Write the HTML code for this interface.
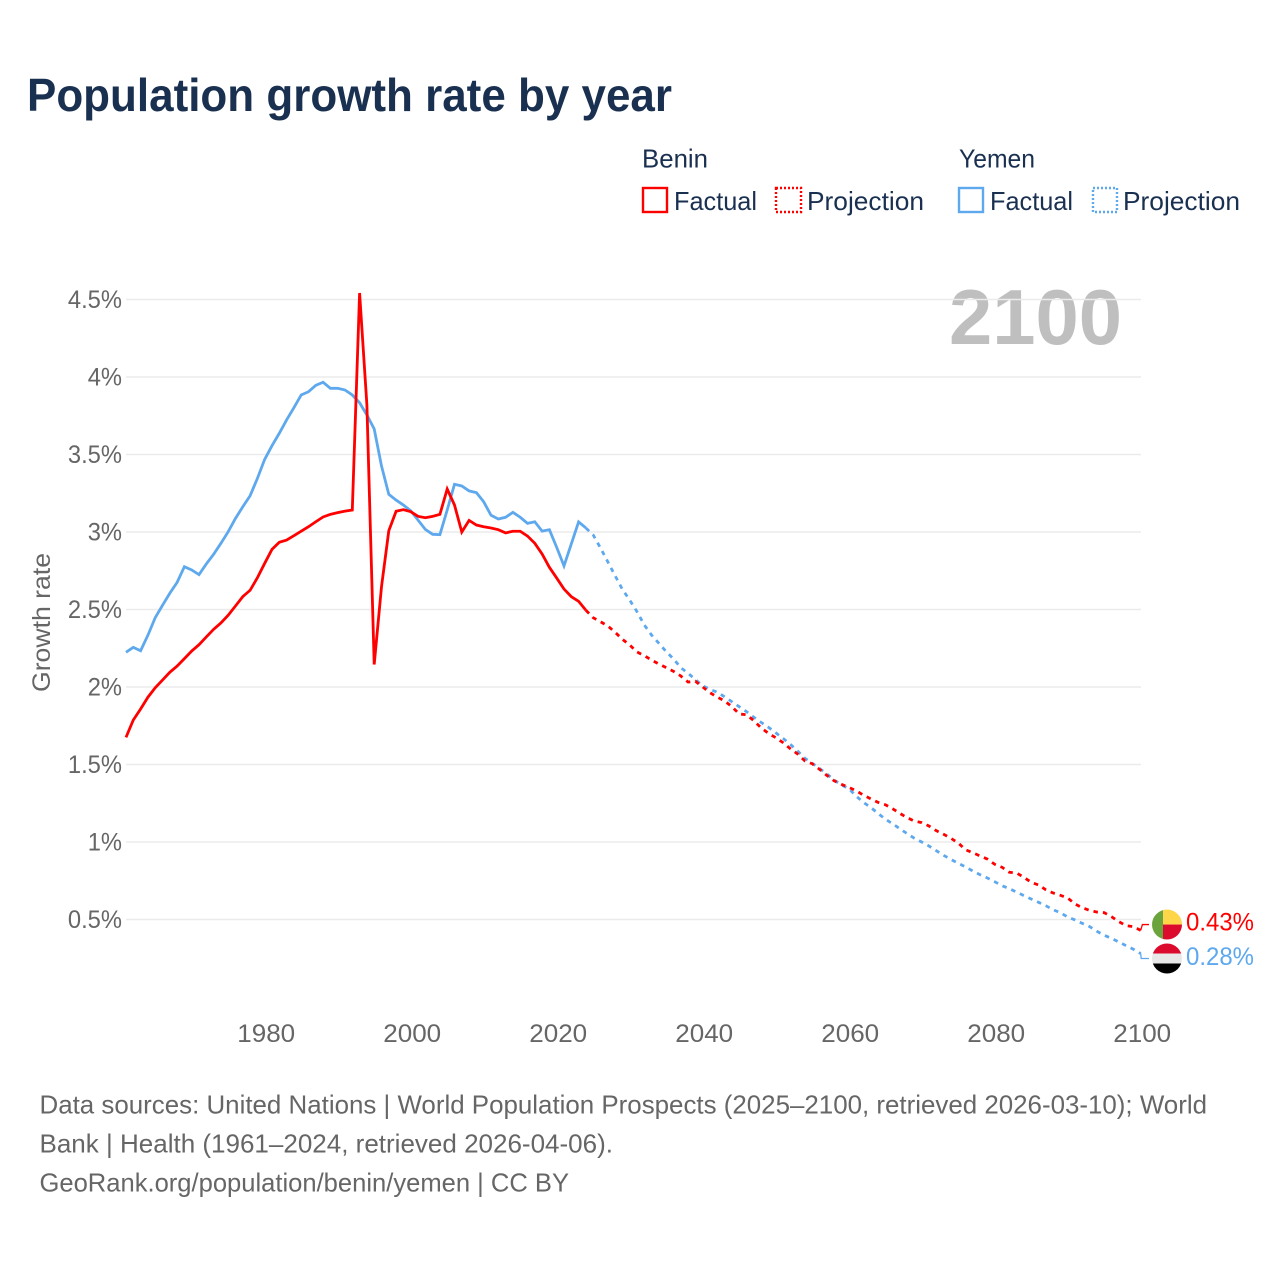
<!DOCTYPE html>
<html lang="en">
<head>
<meta charset="utf-8">
<title>Population growth rate by year</title>
<style>
html,body{margin:0;padding:0;background:#fff;}
svg{display:block;font-family:"Liberation Sans",sans-serif;}
</style>
</head>
<body>
<svg id="chart" xmlns="http://www.w3.org/2000/svg" width="1280" height="1280" viewBox="0 0 1280 1280">
  <rect x="0" y="0" width="1280" height="1280" fill="#ffffff"/>
  <text x="27" y="111" font-size="46" font-weight="700" fill="#1a3050" textLength="645" lengthAdjust="spacingAndGlyphs">Population growth rate by year</text>

  <g font-size="26" fill="#1a3050">
    <text x="642" y="167.5" textLength="66" lengthAdjust="spacingAndGlyphs">Benin</text>
    <rect x="643" y="188" width="24" height="24" fill="none" stroke="#ff0000" stroke-width="2.4"/>
    <text x="674" y="210" textLength="83" lengthAdjust="spacingAndGlyphs">Factual</text>
    <rect x="776" y="188" width="25" height="24" fill="none" stroke="#ff0000" stroke-width="2.4" stroke-dasharray="2 2"/>
    <text x="807" y="210" textLength="117" lengthAdjust="spacingAndGlyphs">Projection</text>
    <text x="959" y="167.5" textLength="76" lengthAdjust="spacingAndGlyphs">Yemen</text>
    <rect x="959" y="188" width="24" height="24" fill="none" stroke="#5ea8ee" stroke-width="2.4"/>
    <text x="990" y="210" textLength="83" lengthAdjust="spacingAndGlyphs">Factual</text>
    <rect x="1093" y="188" width="24" height="24" fill="none" stroke="#5ea8ee" stroke-width="2.4" stroke-dasharray="2 2"/>
    <text x="1123" y="210" textLength="117" lengthAdjust="spacingAndGlyphs">Projection</text>
  </g>

  <text x="949" y="344" font-size="78" font-weight="700" fill="#bfbfbf" textLength="173" lengthAdjust="spacingAndGlyphs">2100</text>
  <text transform="translate(50 692) rotate(-90)" font-size="25" fill="#666666" textLength="139" lengthAdjust="spacingAndGlyphs">Growth rate</text>

  <g id="grid"></g>
  <g id="yticks"></g>
  <g id="xticks"></g>
  <g id="series"></g>
  <g id="endmarks"></g>

  <defs>
    <clipPath id="clip-benin"><circle id="clip-benin-c" cx="1167" cy="924.5" r="15"/></clipPath>
    <clipPath id="clip-yemen"><circle id="clip-yemen-c" cx="1167" cy="958.5" r="15"/></clipPath>
  </defs>

  <g font-size="26" fill="#666666">
    <text x="39.5" y="1113.5" textLength="1167.5" lengthAdjust="spacingAndGlyphs">Data sources: United Nations | World Population Prospects (2025–2100, retrieved 2026-03-10); World</text>
    <text x="39.5" y="1152.5" textLength="573.5" lengthAdjust="spacingAndGlyphs">Bank | Health (1961–2024, retrieved 2026-04-06).</text>
    <text x="39.5" y="1191.5" textLength="529.5" lengthAdjust="spacingAndGlyphs">GeoRank.org/population/benin/yemen | CC BY</text>
  </g>
</svg>
<script>
const factualStartYear = 1961;
const projectionStartYear = 2024;
const xTickYears = [1980, 2000, 2020, 2040, 2060, 2080, 2100];
const yTickValues = [0.5, 1, 1.5, 2, 2.5, 3, 3.5, 4, 4.5];
const yTickLabels = ["0.5%", "1%", "1.5%", "2%", "2.5%", "3%", "3.5%", "4%", "4.5%"];

const beninFactual = [
1.675,1.787,1.858,1.934,1.995,2.045,2.095,2.135,2.183,2.232,
2.273,2.323,2.372,2.413,2.463,2.523,2.583,2.624,2.705,2.798,
2.888,2.934,2.948,2.976,3.005,3.034,3.066,3.097,3.114,3.125,
3.135,3.142,4.542,3.819,2.145,2.647,3.008,3.134,3.144,3.131,
3.101,3.092,3.101,3.114,3.277,3.174,3.000,3.075,3.045,3.034,
3.026,3.015,2.994,3.005,3.005,2.974,2.927,2.858,2.772,2.703,
2.632,2.583,2.553,2.495];

const beninProjection = [
2.495,2.447,2.421,2.394,2.353,2.308,2.271,2.226,2.202,2.174,
2.148,2.125,2.101,2.071,2.032,2.037,2.000,1.963,1.935,1.910,
1.873,1.826,1.821,1.783,1.737,1.701,1.673,1.641,1.602,1.568,
1.523,1.505,1.469,1.430,1.395,1.372,1.353,1.331,1.303,1.279,
1.256,1.241,1.215,1.185,1.157,1.135,1.125,1.103,1.073,1.050,
1.024,0.994,0.950,0.931,0.910,0.890,0.856,0.837,0.805,0.800,
0.772,0.740,0.723,0.692,0.671,0.656,0.639,0.600,0.576,0.559,
0.548,0.544,0.518,0.486,0.460,0.454,0.430];

const yemenFactual = [
2.224,2.256,2.234,2.334,2.447,2.527,2.605,2.675,2.776,2.755,
2.725,2.794,2.856,2.927,3.002,3.088,3.163,3.234,3.346,3.469,
3.557,3.637,3.723,3.802,3.884,3.905,3.946,3.966,3.927,3.927,
3.916,3.884,3.834,3.755,3.665,3.426,3.243,3.206,3.174,3.137,
3.077,3.017,2.985,2.983,3.142,3.308,3.297,3.265,3.254,3.195,
3.108,3.084,3.095,3.127,3.095,3.056,3.066,3.006,3.015,2.901,
2.781,2.923,3.065,3.026];

const yemenProjection = [
3.026,2.981,2.897,2.808,2.718,2.630,2.561,2.486,2.400,2.335,
2.282,2.228,2.181,2.125,2.088,2.048,2.008,1.985,1.966,1.937,
1.905,1.873,1.841,1.805,1.772,1.740,1.705,1.669,1.630,1.587,
1.540,1.508,1.475,1.439,1.400,1.368,1.345,1.297,1.256,1.224,
1.185,1.148,1.118,1.086,1.054,1.024,1.000,0.974,0.944,0.914,
0.888,0.863,0.839,0.813,0.789,0.768,0.744,0.718,0.699,0.677,
0.654,0.632,0.611,0.589,0.563,0.544,0.516,0.497,0.475,0.454,
0.424,0.398,0.379,0.355,0.331,0.308,0.280];

const NS = "http://www.w3.org/2000/svg";
function xScale(year) { return 126 + (year - 1961) * 7.3; }
function yScale(value) { return 997 - value * 155; }
function make(tag, parent, attrs) {
  const el = document.createElementNS(NS, tag);
  for (const k in attrs) el.setAttribute(k, attrs[k]);
  parent.appendChild(el);
  return el;
}
function pathFrom(values, startYear) {
  return values.map(function (v, i) {
    return (i ? "L" : "M") + xScale(startYear + i).toFixed(2) + " " + yScale(v).toFixed(2);
  }).join(" ");
}

const gridGroup = document.getElementById("grid");
const yTickGroup = document.getElementById("yticks");
yTickValues.forEach(function (v, i) {
  const line = make("line", gridGroup, { x1: 126, x2: 1141, y1: yScale(v), y2: yScale(v), stroke: "#ebebeb", "stroke-width": 1.4 });
  
  
  const label = make("text", yTickGroup, { x: 122, y: yScale(v) + 8.5, "text-anchor": "end", "font-size": 25, fill: "#666666" });
  
  
  label.textContent = yTickLabels[i];
  label.setAttribute("textLength", (label.getComputedTextLength() * 0.95).toFixed(1));
  label.setAttribute("lengthAdjust", "spacingAndGlyphs");
});

const xTickGroup = document.getElementById("xticks");
xTickYears.forEach(function (year) {
  const label = make("text", xTickGroup, { x: xScale(year) + 1.5, y: 1042, "text-anchor": "middle", "font-size": 25, fill: "#666666" });
  
  
  label.textContent = String(year);
  label.setAttribute("textLength", (label.getComputedTextLength() * 1.04).toFixed(1));
  label.setAttribute("lengthAdjust", "spacingAndGlyphs");
});

const seriesGroup = document.getElementById("series");
const yemenFactualLine = make("path", seriesGroup, { d: pathFrom(yemenFactual, factualStartYear), fill: "none", stroke: "#5ea8ee", "stroke-width": 2.8 });


const yemenProjectionLine = make("path", seriesGroup, { d: pathFrom(yemenProjection, projectionStartYear), fill: "none", stroke: "#5ea8ee", "stroke-width": 2.8, "stroke-dasharray": "4.5 5" });


const beninFactualLine = make("path", seriesGroup, { d: pathFrom(beninFactual, factualStartYear), fill: "none", stroke: "#ff0000", "stroke-width": 2.8 });


const beninProjectionLine = make("path", seriesGroup, { d: pathFrom(beninProjection, projectionStartYear), fill: "none", stroke: "#ff0000", "stroke-width": 2.8, "stroke-dasharray": "4.5 5" });



const endGroup = document.getElementById("endmarks");
const endYear = 2100;
const beninEnd = beninProjection[beninProjection.length - 1];
const yemenEnd = yemenProjection[yemenProjection.length - 1];
const beninCy = yScale(beninEnd) - 5.8;
const yemenCy = yScale(yemenEnd) + 4.9;
document.getElementById("clip-benin-c").setAttribute("cy", beninCy);
document.getElementById("clip-yemen-c").setAttribute("cy", yemenCy);

const beninConnector = make("path", endGroup, { d: "M" + xScale(endYear) + " " + yScale(beninEnd) + " L" + (xScale(endYear) + 1.7) + " " + beninCy + " L1149 " + beninCy, fill: "none", stroke: "#ff0000", "stroke-width": 1.3 });


const yemenConnector = make("path", endGroup, { d: "M" + xScale(endYear) + " " + yScale(yemenEnd) + " L" + (xScale(endYear) + 0.5) + " " + yemenCy + " L1149 " + yemenCy, fill: "none", stroke: "#5ea8ee", "stroke-width": 1.3 });



const beninFlag = make("g", endGroup, { "clip-path": "url(#clip-benin)" });


make("rect", beninFlag, { x: 1152, y: beninCy - 15, width: 11, height: 30, fill: "#6ba33d" });
make("rect", beninFlag, { x: 1163, y: beninCy - 15, width: 19, height: 15, fill: "#ffd54a" });
make("rect", beninFlag, { x: 1163, y: beninCy, width: 19, height: 15, fill: "#dc0a2c" });

const yemenFlag = make("g", endGroup, { "clip-path": "url(#clip-yemen)" });


make("rect", yemenFlag, { x: 1152, y: yemenCy - 15, width: 30, height: 10, fill: "#dc0a2c" });
make("rect", yemenFlag, { x: 1152, y: yemenCy - 5, width: 30, height: 10, fill: "#e8e8e8" });
make("rect", yemenFlag, { x: 1152, y: yemenCy + 5, width: 30, height: 10, fill: "#000000" });

const beninValue = make("text", endGroup, { x: 1186, y: beninCy + 6, "font-size": 25, fill: "#ff0000" });


beninValue.textContent = beninEnd.toFixed(2) + "%";
beninValue.setAttribute("textLength", "68");
beninValue.setAttribute("lengthAdjust", "spacingAndGlyphs");

const yemenValue = make("text", endGroup, { x: 1186, y: yemenCy + 6.5, "font-size": 25, fill: "#5ea8ee" });


yemenValue.textContent = yemenEnd.toFixed(2) + "%";
yemenValue.setAttribute("textLength", "68");
yemenValue.setAttribute("lengthAdjust", "spacingAndGlyphs");
</script>
</body>
</html>
